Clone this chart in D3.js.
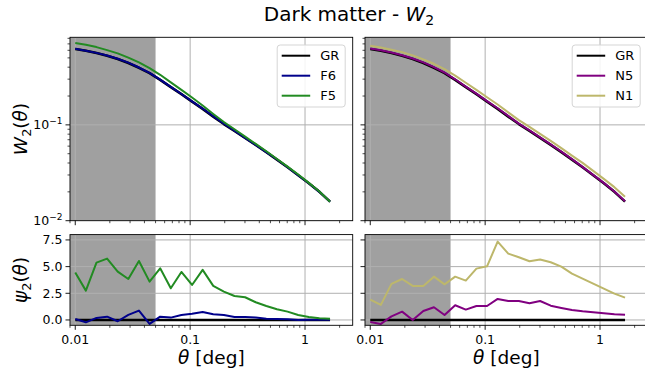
<!DOCTYPE html>
<html>
<head>
<meta charset="utf-8">
<script src="https://cdn.jsdelivr.net/npm/d3@7"></script>
<style>
  html, body { margin: 0; padding: 0; background: #fff; }
  svg { display: block; font-family: "DejaVu Sans", sans-serif; }
</style>
</head>
<body>
<svg id="chart" width="645" height="376"></svg>
<script>
// ---------------- data ----------------
const theta = [0.0100, 0.01237, 0.01530, 0.01893, 0.02342, 0.02897, 0.03584, 0.04434, 0.05485,
  0.06786, 0.08395, 0.1039, 0.1285, 0.1589, 0.1966, 0.2432, 0.3009, 0.3722, 0.4605, 0.5697,
  0.7047, 0.8718, 1.0784, 1.334, 1.651];

const wGR = [0.618, 0.593, 0.561, 0.526, 0.486, 0.442, 0.394, 0.347, 0.295, 0.248, 0.209, 0.175,
  0.147, 0.122, 0.102, 0.0865, 0.0731, 0.0618, 0.0519, 0.0434, 0.0361, 0.0298, 0.0246, 0.0200, 0.0158];
const wF6 = [0.622, 0.595, 0.564, 0.529, 0.489, 0.446, 0.397, 0.349, 0.297, 0.249, 0.210, 0.176,
  0.148, 0.123, 0.103, 0.0868, 0.0733, 0.0619, 0.0520, 0.0435, 0.0361, 0.0298, 0.0246, 0.0200, 0.0158];
const wF5 = [0.714, 0.685, 0.648, 0.603, 0.557, 0.503, 0.448, 0.391, 0.333, 0.278, 0.232, 0.193,
  0.159, 0.130, 0.107, 0.0900, 0.0755, 0.0633, 0.0531, 0.0441, 0.0367, 0.0303, 0.0248, 0.0202, 0.0158];
const wN5 = [0.626, 0.600, 0.568, 0.533, 0.493, 0.449, 0.400, 0.352, 0.299, 0.251, 0.212, 0.177,
  0.149, 0.124, 0.103, 0.0876, 0.0740, 0.0625, 0.0525, 0.0439, 0.0365, 0.0301, 0.0248, 0.0202, 0.0160];
const wN1 = [0.669, 0.642, 0.608, 0.574, 0.531, 0.483, 0.434, 0.382, 0.327, 0.275, 0.232, 0.194,
  0.163, 0.135, 0.112, 0.0952, 0.0805, 0.0680, 0.0571, 0.0478, 0.0401, 0.0331, 0.0273, 0.0224, 0.0178];

const psiGR = [0, 0, 0, 0, 0, 0, 0, 0, 0, 0, 0, 0, 0, 0, 0, 0, 0, 0, 0, 0, 0, 0, 0, 0, 0];
const psiF6 = [0.09, -0.22, 0.19, 0.31, -0.12, 0.47, 0.88, -0.37, 0.31, 0.22, 0.47, 0.59, 0.75,
  0.53, 0.47, 0.28, 0.28, 0.22, 0.12, 0.09, 0.06, 0.00, 0.03, 0.03, 0.03];
const psiF5 = [4.44, 2.75, 5.37, 5.75, 4.53, 3.84, 5.53, 3.59, 4.84, 2.97, 4.50, 3.28, 4.69,
  3.19, 2.66, 2.25, 2.13, 1.66, 1.31, 1.00, 0.78, 0.47, 0.28, 0.16, 0.12];
const psiN5 = [-0.19, -0.37, 0.34, 0.78, 0.00, 0.84, 1.19, 0.47, 1.38, 0.97, 1.31, 1.31, 1.97,
  1.78, 1.78, 1.56, 1.78, 1.34, 1.13, 0.94, 0.81, 0.72, 0.63, 0.53, 0.50];
const psiN1 = [1.91, 1.41, 3.38, 3.84, 3.19, 3.19, 4.06, 3.34, 4.06, 3.69, 4.81, 5.03, 7.34,
  6.22, 5.88, 5.50, 5.66, 5.41, 5.00, 4.34, 3.88, 3.41, 2.94, 2.47, 2.09];

const xTicks = [0.01, 0.1, 1];
const xTickLabels = ["0.01", "0.1", "1"];
const wTicks = [0.01, 0.1];
const wTickExp = ["\u22122", "\u22121"];
const psiTicks = [0, 2.5, 5, 7.5];
const psiTickLabels = ["0.0", "2.5", "5.0", "7.5"];
const maskEdge = 0.05;

const xLimits = [0.009, 2.6];
const wLimits = [0.01, 0.82];
const psiLimits = [-0.5, 8];

const leftSeries = [
  {name: "GR", w: wGR, psi: psiGR, color: "#000000", lw: 2.6},
  {name: "F6", w: wF6, psi: psiF6, color: "#00008b", lw: 2},
  {name: "F5", w: wF5, psi: psiF5, color: "#228b22", lw: 2}
];
const rightSeries = [
  {name: "GR", w: wGR, psi: psiGR, color: "#000000", lw: 2.6},
  {name: "N5", w: wN5, psi: psiN5, color: "#800080", lw: 2},
  {name: "N1", w: wN1, psi: psiN1, color: "#bdb76b", lw: 2}
];

// ---------------- layout ----------------
const svg = d3.select("#chart");
const cols = [{x0: 70, x1: 352.7, series: leftSeries, yLabels: true, id: "L"},
              {x0: 365, x1: 647.7, series: rightSeries, yLabels: false, id: "R"}];
const rowTop = {y0: 37.3, y1: 220.7};
const rowBot = {y0: 234.6, y1: 325.3};
const tickFont = 12.5, labelFont = 18.5;
const gridColor = "#b0b0b0";

function minorLogTicks(domain) {
  const out = [];
  for (let e = -4; e <= 2; e++) {
    for (let m = 2; m <= 9; m++) {
      const v = m * Math.pow(10, e);
      if (v >= domain[0] && v <= domain[1]) out.push(v);
    }
  }
  return out;
}

cols.forEach((c, ci) => {
  const x = d3.scaleLog().domain(xLimits).range([c.x0, c.x1]);
  [["top", rowTop], ["bot", rowBot]].forEach(([kind, r]) => {
    const y = kind === "top"
      ? d3.scaleLog().domain(wLimits).range([r.y1, r.y0])
      : d3.scaleLinear().domain(psiLimits).range([r.y1, r.y0]);
    const clipId = "clip" + c.id + kind;
    svg.append("clipPath").attr("id", clipId).append("rect")
      .attr("x", c.x0).attr("y", r.y0).attr("width", c.x1 - c.x0).attr("height", r.y1 - r.y0);
    const g = svg.append("g");
    const inner = g.append("g").attr("clip-path", `url(#${clipId})`);

    // masked region
    inner.append("rect")
      .attr("x", x(xLimits[0])).attr("y", r.y0)
      .attr("width", x(maskEdge) - x(xLimits[0])).attr("height", r.y1 - r.y0)
      .attr("fill", "#a0a0a0");

    // grid
    xTicks.forEach(t => {
      inner.append("line").attr("x1", x(t)).attr("x2", x(t)).attr("y1", r.y0).attr("y2", r.y1)
        .attr("stroke", gridColor).attr("stroke-width", 1);
    });
    const yt = kind === "top" ? wTicks : psiTicks;
    yt.forEach(t => {
      inner.append("line").attr("x1", c.x0).attr("x2", c.x1).attr("y1", y(t)).attr("y2", y(t))
        .attr("stroke", gridColor).attr("stroke-width", 1);
    });

    // lines
    c.series.forEach(s => {
      const vals = kind === "top" ? s.w : s.psi;
      const line = d3.line().x((d, i) => x(theta[i])).y(d => y(d));
      inner.append("path").datum(vals).attr("d", line)
        .attr("fill", "none").attr("stroke", s.color).attr("stroke-width", s.lw)
        .attr("stroke-linejoin", "round");
    });

    // spines
    g.append("rect").attr("x", c.x0).attr("y", r.y0).attr("width", c.x1 - c.x0).attr("height", r.y1 - r.y0)
      .attr("fill", "none").attr("stroke", "#000").attr("stroke-width", 0.9);

    // x ticks
    xTicks.forEach(t => {
      g.append("line").attr("x1", x(t)).attr("x2", x(t)).attr("y1", r.y1).attr("y2", r.y1 + 4.5)
        .attr("stroke", "#000").attr("stroke-width", 0.9);
    });
    minorLogTicks(xLimits).forEach(t => {
      g.append("line").attr("x1", x(t)).attr("x2", x(t)).attr("y1", r.y1).attr("y2", r.y1 + 2.5)
        .attr("stroke", "#000").attr("stroke-width", 0.7);
    });
    if (kind === "bot") {
      xTicks.forEach((t, i) => {
        g.append("text").attr("x", x(t)).attr("y", r.y1 + 18.5).attr("text-anchor", "middle")
          .attr("font-size", tickFont).text(xTickLabels[i]);
      });
      // x label: italic theta + "[deg]" as two adjacent texts, centred together
      const xg = g.append("g");
      const t1 = xg.append("text").attr("x", 0).attr("y", 0).attr("font-size", labelFont)
        .attr("font-style", "italic").text("\u03b8");
      const w1 = t1.node().getComputedTextLength();
      const t2 = xg.append("text").attr("x", w1 + labelFont * 0.32).attr("y", 0)
        .attr("font-size", labelFont).text("[deg]");
      const w2 = t2.node().getComputedTextLength();
      const total = w1 + labelFont * 0.32 + w2;
      xg.attr("transform", `translate(${(c.x0 + c.x1) / 2 - total / 2},364)`);
    }

    // y ticks
    yt.forEach((t, i) => {
      g.append("line").attr("x1", c.x0 - 4.5).attr("x2", c.x0).attr("y1", y(t)).attr("y2", y(t))
        .attr("stroke", "#000").attr("stroke-width", 0.9);
      if (c.yLabels) {
        const tx = g.append("text").attr("x", c.x0 - 7.5).attr("y", y(t) + tickFont * 0.36)
          .attr("text-anchor", "end").attr("font-size", tickFont);
        if (kind === "top") {
          tx.append("tspan").text("10");
          tx.append("tspan").attr("font-size", tickFont * 0.72).attr("dy", -5).text(wTickExp[i]);
        } else {
          tx.text(psiTickLabels[i]);
        }
      }
    });
    if (kind === "top") {
      minorLogTicks(wLimits).forEach(t => {
        g.append("line").attr("x1", c.x0 - 2.5).attr("x2", c.x0).attr("y1", y(t)).attr("y2", y(t))
          .attr("stroke", "#000").attr("stroke-width", 0.7);
      });
    }

    // y labels
    if (c.yLabels) {
      const cy = (r.y0 + r.y1) / 2;
      const yl = g.append("text").attr("transform", `translate(27,${cy}) rotate(-90)`)
        .attr("text-anchor", "middle").attr("font-size", labelFont);
      yl.append("tspan").attr("font-style", "italic").text(kind === "top" ? "W" : "\u03c8");
      yl.append("tspan").attr("font-size", labelFont * 0.7).attr("dy", 4).text("2");
      yl.append("tspan").attr("dy", -4).text("(");
      yl.append("tspan").attr("font-style", "italic").text("\u03b8");
      yl.append("tspan").text(")");
    }

    // legend
    if (kind === "top") {
      const bx1 = c.x1 - 7.5, bx0 = bx1 - 68, by0 = 45, by1 = 107;
      g.append("rect").attr("x", bx0).attr("y", by0).attr("width", bx1 - bx0).attr("height", by1 - by0)
        .attr("rx", 3).attr("fill", "#fff").attr("fill-opacity", 0.85)
        .attr("stroke", "#d5d5d5").attr("stroke-width", 1);
      c.series.forEach((s, i) => {
        const ly = 55.7 + i * 20;
        g.append("line").attr("x1", bx0 + 4.5).attr("x2", bx0 + 33).attr("y1", ly).attr("y2", ly)
          .attr("stroke", s.color).attr("stroke-width", 2);
        g.append("text").attr("x", bx0 + 43).attr("y", ly + 4.6).attr("font-size", tickFont + 0.5)
          .text(s.name);
      });
    }
  });
});

// title
const title = svg.append("text").attr("x", 349).attr("y", 21).attr("text-anchor", "middle")
  .attr("font-size", 20);
title.append("tspan").text("Dark matter - ");
title.append("tspan").attr("font-style", "italic").text("W");
title.append("tspan").attr("font-size", 14).attr("dy", 4).text("2");
</script>
</body>
</html>
